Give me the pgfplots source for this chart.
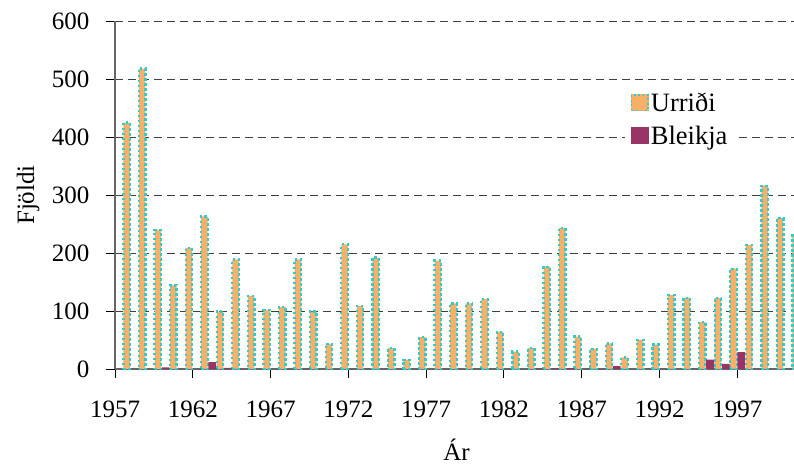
\documentclass[border=0pt]{standalone}
\usepackage{fontspec}
\setmainfont{Liberation Serif}
\usepackage{pgfplots}
\pgfplotsset{compat=1.18}
\definecolor{urr}{RGB}{248,176,104}
\definecolor{urrb}{RGB}{51,204,204}
\definecolor{ble}{RGB}{153,51,102}
\newcommand{\bigf}{\fontsize{25}{30}\selectfont}
\newcommand{\legf}{\fontsize{26.5}{30}\selectfont}
\begin{document}
\begin{tikzpicture}[x=1pt,y=1pt]
\begin{axis}[
  at={(115pt,98pt)}, anchor=south west,
  scale only axis, width=684.6pt, height=348pt,
  xmin=-0.5, xmax=43.5, ymin=0, ymax=600,
  axis x line=bottom, axis y line=left,
  axis line style={-, line width=1.3pt, color=black!60},
  ytick={0,100,...,600},
  xtick={-0.5,4.5,...,39.5},
  xticklabels={1957,1962,1967,1972,1977,1982,1987,1992,1997},
  tick align=outside, major tick length=9pt,
  tick style={black, line width=1pt},
  /pgf/number format/assume math mode=true,
  ticklabel style={font=\bigf},
  xticklabel style={anchor=base, yshift=-39pt},
  yticklabel style={anchor=east, xshift=-13pt},
  ymajorgrids,
  major grid style={dash pattern=on 8pt off 5pt, line width=1pt, color=black!75},
  xlabel={Ár}, ylabel={Fjöldi},
  every axis y label/.style={at={(axis description cs:-0.127,0.5)}, rotate=90, anchor=center, font=\bigf},
  every axis x label/.style={at={(axis description cs:0.499,-0.2635)}, anchor=base, font=\bigf},
  legend style={at={(0.7445,0.818)}, anchor=north west, draw=none, fill=white,
    font=\legf, inner sep=6pt, row sep=9pt, legend cell align=left,
    /tikz/every even column/.append style={column sep=19pt}},
  clip=true,
]
\addplot[ybar, bar width=6.5pt, bar shift=3.89pt, fill=urr, draw=urrb, line width=2.3pt,
  dash pattern=on 2.3pt off 2.7pt,
  legend image code/.code={%
     \path[fill=urr, draw=none] (0pt,-8.5pt) rectangle (18pt,8.5pt);
     \path[draw=urrb, fill=none, line width=1.6pt, dash pattern=on 1.8pt off 2.6pt] (0.8pt,-7.7pt) rectangle (17.2pt,7.7pt);}]
coordinates {
(0,425) (1,518) (2,240) (3,144) (4,209) (5,263) (6,99) (7,189) (8,126) (9,102)
(10,107) (11,189) (12,99) (13,43) (14,215) (15,109) (16,192) (17,36) (18,16) (19,55)
(20,187) (21,113) (22,113) (23,121) (24,64) (25,30) (26,36) (27,176) (28,243) (29,56)
(30,35) (31,44) (32,20) (33,50) (34,42) (35,128) (36,123) (37,81) (38,122) (39,173)
(40,214) (41,316) (42,260) (43,230)
};
\addlegendentry{Urriði}
\addplot[ybar, bar width=7.8pt, bar shift=-3.89pt, fill=ble, draw=none,
  legend image code/.code={\path[fill=ble, draw=none] (0pt,-8.5pt) rectangle (18pt,8.5pt);}]
coordinates {
(0,0) (1,0) (2,0) (3,3) (4,0) (5,0) (6,12) (7,2) (8,0) (9,0)
(10,0) (11,0) (12,0) (13,0) (14,0) (15,0) (16,0) (17,0) (18,0) (19,0)
(20,0) (21,0) (22,0) (23,0) (24,0) (25,0) (26,0) (27,1) (28,1) (29,1.5)
(30,0) (31,0) (32,5) (33,0) (34,0) (35,0) (36,0) (37,0) (38,16) (39,9)
(40,29) (41,0) (42,0) (43,0)
};
\addlegendentry{Bleikja}
\end{axis}
\pgfresetboundingbox
\useasboundingbox (0,0) rectangle (794,467);
\end{tikzpicture}
\end{document}
